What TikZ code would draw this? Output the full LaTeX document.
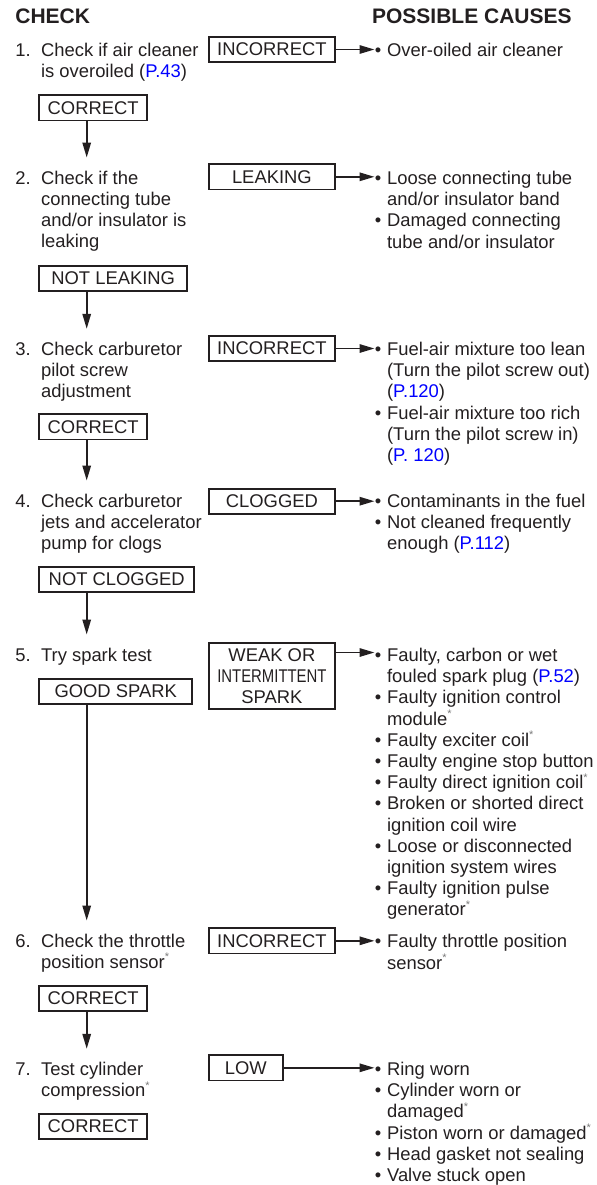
\documentclass[tikz,border=0pt]{standalone}
\usepackage{fontspec}
\setmainfont{Liberation Sans}
\usetikzlibrary{arrows.meta,calc,positioning}

\definecolor{ink}{HTML}{231F20}
\definecolor{linkblue}{HTML}{0000FF}
\definecolor{stargray}{HTML}{7A7A7A}

\newcommand\stepno[1]{\makebox[12.85pt][l]{#1}}
\newcommand\cont{\hspace*{12.85pt}}
\newcommand\bul{\makebox[6.1pt][l]{\textbullet}}
\newcommand\nxt{\hspace*{6.1pt}}
\newcommand\pg[1]{\textcolor{linkblue}{#1}}
\newcommand\starnote{\textsuperscript{\textcolor{stargray}{\fontsize{5.5}{5.5}\selectfont *}}}

\tikzset{
  every node/.style={font=\fontsize{9.2}{10.6}\selectfont, text=ink},
  head/.style={anchor=base west, inner sep=0pt, font=\fontsize{10.5}{12}\selectfont\bfseries},
  check/.style={anchor=north west, yshift=6.6pt, inner sep=0pt, align=left},
  cause/.style={anchor=north west, yshift=6.6pt, inner sep=0pt, align=left},
  answer/.style={draw=ink, line width=0.9pt, anchor=north west, inner sep=0pt,
    minimum height=12.6pt, align=center},
  okbox/.style={answer, minimum width=#1},
  badbox/.style={answer, minimum width=63pt},
  flow/.style={draw=ink, line width=0.9pt, -{Triangle[length=7.5pt,width=4.2pt]}}
}

\begin{document}
\begin{tikzpicture}[x=0.5pt,y=-0.5pt]
\useasboundingbox (0,0) rectangle (596,1185);

\node[head] (hcheck) at (15,23.3) {CHECK};
\node[head] (hcause) at (371.7,23.3) {POSSIBLE CAUSES};

% checks
\node[check] (check1) at (15,56) {\stepno{1.}Check if air cleaner\\\cont is overoiled (\pg{P.43})};
\node[check] (check2) at (15,183.7) {\stepno{2.}Check if the\\\cont connecting tube\\\cont and/or insulator is\\\cont leaking};
\node[check] (check3) at (15,355) {\stepno{3.}Check carburetor\\\cont pilot screw\\\cont adjustment};
\node[check] (check4) at (15,506.7) {\stepno{4.}Check carburetor\\\cont jets and accelerator\\\cont pump for clogs};
\node[check] (check5) at (15,660.7) {\stepno{5.}Try spark test};
\node[check] (check6) at (15,946.7) {\stepno{6.}Check the throttle\\\cont position sensor\starnote};
\node[check] (check7) at (15,1075) {\stepno{7.}Test cylinder\\\cont compression\starnote};

% answers leading down
\node[okbox=54pt]   (ok1) at (38.3,94.3)  {CORRECT};
\node[okbox=74pt]   (ok2) at (38.3,265)   {NOT LEAKING};
\node[okbox=54pt]   (ok3) at (38.3,413.3) {CORRECT};
\node[okbox=77.5pt] (ok4) at (38.3,566)   {NOT CLOGGED};
\node[okbox=76.5pt] (ok5) at (38.3,677.7) {GOOD SPARK};
\node[okbox=54pt]   (ok6) at (38.3,985)   {CORRECT};
\node[okbox=54pt]   (ok7) at (38.3,1112.7) {CORRECT};

% answers leading right
\node[badbox] (bad1) at (208,36)    {INCORRECT};
\node[badbox] (bad2) at (208,163.3) {LEAKING};
\node[badbox] (bad3) at (208,335)   {INCORRECT};
\node[badbox] (bad4) at (208,487.7) {CLOGGED};
\node[badbox, minimum height=33.3pt] (bad5) at (208,641.7)
  {WEAK OR\\\scalebox{0.81}[1]{INTERMITTENT}\\SPARK};
\node[badbox] (bad6) at (208,927.3) {INCORRECT};
\node[badbox, minimum width=37pt] (bad7) at (208,1054.3) {LOW};

% causes
\node[cause] (cause1) at (374.5,56) {\bul Over-oiled air cleaner};
\node[cause] (cause2) at (374.5,184) {\bul Loose connecting tube\\\nxt and/or insulator band\\
  \bul Damaged connecting\\\nxt tube and/or insulator};
\node[cause] (cause3) at (374.5,355) {\bul Fuel-air mixture too lean\\\nxt (Turn the pilot screw out)\\
  \nxt (\pg{P.120})\\\bul Fuel-air mixture too rich\\\nxt (Turn the pilot screw in)\\\nxt (\pg{P. 120})};
\node[cause] (cause4) at (374.5,506.7) {\bul Contaminants in the fuel\\\bul Not cleaned frequently\\
  \nxt enough (\pg{P.112})};
\node[cause] (cause5) at (374.5,661) {\bul Faulty, carbon or wet\\\nxt fouled spark plug (\pg{P.52})\\
  \bul Faulty ignition control\\\nxt module\starnote\\\bul Faulty exciter coil\starnote\\
  \bul Faulty engine stop button\\\bul Faulty direct ignition coil\starnote\\
  \bul Broken or shorted direct\\\nxt ignition coil wire\\\bul Loose or disconnected\\
  \nxt ignition system wires\\\bul Faulty ignition pulse\\\nxt generator\starnote};
\node[cause] (cause6) at (374.5,947.3) {\bul Faulty throttle position\\\nxt sensor\starnote};
\node[cause] (cause7) at (374.5,1075) {\bul Ring worn\\\bul Cylinder worn or\\\nxt damaged\starnote\\
  \bul Piston worn or damaged\starnote\\\bul Head gasket not sealing\\\bul Valve stuck open};

\coordinate (trunk) at (86.7,0);
\coordinate (sparkout) at ([yshift=-5.4pt]bad5.north east);

\foreach \i/\j in {1/2,2/3,3/4,4/5,5/6,6/7}
  \draw[flow, shorten >=6.5pt] (ok\i.south -| trunk) -- (check\j.north -| trunk);
\foreach \i in {1,2,3,4,6,7}
  \draw[flow] (bad\i.east) -- (bad\i.east -| cause\i.west);
\draw[flow] (sparkout) -- (sparkout -| cause5.west);
\end{tikzpicture}
\end{document}
